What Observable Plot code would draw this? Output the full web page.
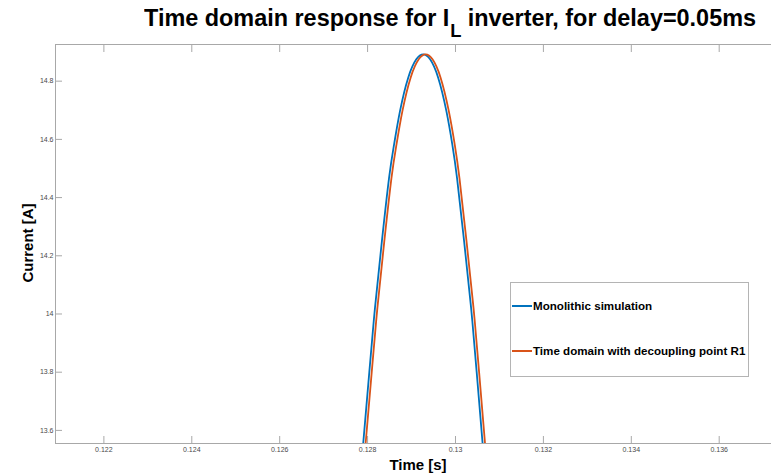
<!DOCTYPE html>
<html>
<head>
<meta charset="utf-8">
<script src="https://cdn.jsdelivr.net/npm/d3@7"></script>
<script src="https://cdn.jsdelivr.net/npm/@observablehq/plot@0.6"></script>
<style>
  html, body { margin: 0; padding: 0; background: #fff; }
  #wrap { position: relative; width: 771px; height: 475px; overflow: hidden; font-family: "Liberation Sans", Arial, Helvetica, sans-serif; }
  #wrap svg { position: absolute; left: 0; top: 0; }
  .ov { position: absolute; white-space: nowrap; color: #000; font-weight: bold; }
  #title { left: 144px; top: 5px; font-size: 23px; transform-origin: 0 0; }
  #title .sub { font-size: 18px; position: relative; top: 11px; margin-left: 1px; margin-right: 6px; }
  #xlabel { font-size: 15px; left: 390px; top: 456px; }
  #ylabel { font-size: 15px; left: 0; top: 0; transform-origin: 0 0; }
  #legend { position: absolute; left: 510px; top: 282px; width: 239px; height: 95px; border: 1px solid #b4b4b4; background: #fff; box-sizing: border-box; }
  .item { position: absolute; left: 1px; height: 14px; font-size: 11.6px; font-weight: bold; color: #000; white-space: nowrap; }
  .item .sw { display: inline-block; width: 20px; height: 0; border-top: 2px solid; vertical-align: middle; margin-right: 1px; position: relative; top: -1px; }
</style>
</head>
<body>
<div id="wrap"></div>
<script>
// ---- data ----
const titleMain = "Time domain response for I";
const titleSub = "L";
const titleRest = "inverter, for delay=0.05ms";
const xLabel = "Time [s]";
const yLabel = "Current [A]";
const seriesNames = ["Monolithic simulation", "Time domain with decoupling point R1"];
const seriesColors = ["#0072BD", "#D95319"];

const xDomain = [0.120899, 0.13719];
const yDomain = [13.555, 14.926];
const xTicks = [0.122, 0.124, 0.126, 0.128, 0.13, 0.132, 0.134, 0.136];
const xTickLabels = ["0.122", "0.124", "0.126", "0.128", "0.13", "0.132", "0.134", "0.136"];
const yTicks = [13.6, 13.8, 14, 14.2, 14.4, 14.6, 14.8];
const yTickLabels = ["13.6", "13.8", "14", "14.2", "14.4", "14.6", "14.8"];

const monoTime = [0.127755, 0.127900, 0.128039, 0.128168, 0.128323, 0.128487, 0.128603, 0.128737, 0.128924, 0.129108, 0.129265, 0.129422, 0.129606, 0.129793, 0.129927, 0.130036, 0.130198, 0.130355, 0.130482, 0.130617, 0.130755];
const monoCurrent = [13.30, 13.555, 13.800, 14.021, 14.247, 14.466, 14.583, 14.697, 14.812, 14.875, 14.892, 14.875, 14.812, 14.697, 14.583, 14.466, 14.247, 14.021, 13.800, 13.555, 13.30];

const decTime = [0.127810, 0.127955, 0.128094, 0.128223, 0.128378, 0.128542, 0.128658, 0.128792, 0.128979, 0.129163, 0.129320, 0.129477, 0.129661, 0.129848, 0.129982, 0.130091, 0.130253, 0.130410, 0.130537, 0.130672, 0.130810];
const decCurrent = [13.30, 13.555, 13.800, 14.021, 14.247, 14.466, 14.583, 14.697, 14.812, 14.875, 14.892, 14.875, 14.812, 14.697, 14.583, 14.466, 14.247, 14.021, 13.800, 13.555, 13.30];

// ---- build ----
const mono = monoTime.map((t, i) => ({t, v: monoCurrent[i]}));
const dec = decTime.map((t, i) => ({t, v: decCurrent[i]}));
const axisGray = "#a8a8a8";
const labelGray = "#4a4a4a";

const plot = Plot.plot({
  width: 771,
  height: 475,
  marginLeft: 55,
  marginRight: 0,
  marginTop: 44,
  marginBottom: 32,
  x: {domain: xDomain},
  y: {domain: yDomain},
  style: {fontFamily: "'Liberation Sans', Arial, sans-serif", fontSize: "7px", color: labelGray, background: "white"},
  marks: [
    Plot.frame({stroke: axisGray}),
    Plot.axisX(xTicks, {anchor: "bottom", tickSize: 0, tickPadding: 4, label: null, fill: labelGray,
      tickFormat: d => xTickLabels[xTicks.indexOf(d)]}),
    Plot.axisX(xTicks, {anchor: "bottom", tickSize: 7, dy: -7, text: null, label: null, stroke: axisGray}),
    Plot.axisX(xTicks, {anchor: "top", tickSize: 7, dy: 7, text: null, label: null, stroke: axisGray}),
    Plot.axisY(yTicks, {anchor: "left", tickSize: 0, tickPadding: 2, label: null, fill: labelGray,
      tickFormat: d => yTickLabels[yTicks.indexOf(d)]}),
    Plot.axisY(yTicks, {anchor: "left", tickSize: 7, dx: 7, text: null, label: null, stroke: axisGray}),
    Plot.line(mono, {x: "t", y: "v", stroke: seriesColors[0], strokeWidth: 1.8, curve: "natural", clip: true}),
    Plot.line(dec, {x: "t", y: "v", stroke: seriesColors[1], strokeWidth: 1.8, curve: "natural", clip: true})
  ]
});

const wrap = document.getElementById("wrap");
wrap.appendChild(plot);

// title
const title = document.createElement("div");
title.id = "title"; title.className = "ov";
title.append(titleMain);
const sub = document.createElement("span"); sub.className = "sub"; sub.textContent = titleSub;
title.append(sub);
title.append(titleRest);
wrap.appendChild(title);
const tw = title.getBoundingClientRect().width;
title.style.transform = `scaleX(${612 / tw})`;

// axis labels
const xl = document.createElement("div");
xl.id = "xlabel"; xl.className = "ov"; xl.textContent = xLabel;
wrap.appendChild(xl);
const xw = xl.getBoundingClientRect().width;
xl.style.left = (418 - xw / 2) + "px";

const yl = document.createElement("div");
yl.id = "ylabel"; yl.className = "ov"; yl.textContent = yLabel;
wrap.appendChild(yl);
const yr = yl.getBoundingClientRect();
yl.style.transform = `translate(${19}px, ${243 + yr.width / 2}px) rotate(-90deg)`;

// legend
const lg = document.createElement("div");
lg.id = "legend";
const itemTops = [16, 61];
seriesNames.forEach((name, i) => {
  const it = document.createElement("div");
  it.className = "item";
  it.style.top = itemTops[i] + "px";
  const sw = document.createElement("span");
  sw.className = "sw"; sw.style.borderColor = seriesColors[i];
  it.appendChild(sw);
  it.append(name);
  lg.appendChild(it);
});
wrap.appendChild(lg);
</script>
</body>
</html>
